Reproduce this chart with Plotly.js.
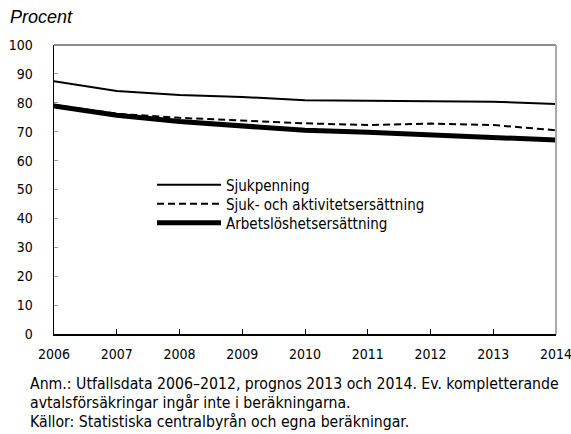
<!DOCTYPE html>
<html>
<head>
<meta charset="utf-8">
<script src="https://cdn.plot.ly/plotly-3.0.1.min.js"></script>
<style>
html,body{margin:0;padding:0;background:#fff;}
#chart{width:571px;height:434px;}
</style>
</head>
<body>
<div id="chart"></div>
<script>
const years = [2006, 2007, 2008, 2009, 2010, 2011, 2012, 2013, 2014];
const sjukpenning = [87.5, 84.1, 82.7, 82.0, 80.9, 80.8, 80.7, 80.4, 79.6];
const sjukAktivitet = [79.3, 76.2, 74.8, 73.8, 72.9, 72.3, 72.8, 72.3, 70.5];
const arbetsloshet = [78.9, 75.7, 73.5, 71.8, 70.5, 69.8, 69.0, 68.3, 67.1];
const seriesNames = ["Sjukpenning", "Sjuk- och aktivitetsersättning", "Arbetslöshetsersättning"];
const yTicks = [0, 10, 20, 30, 40, 50, 60, 70, 80, 90, 100];
const noteLines = [
  "Anm.: Utfallsdata 2006–2012, prognos 2013 och 2014. Ev. kompletterande",
  "avtalsförsäkringar ingår inte i beräkningarna.",
  "Källor: Statistiska centralbyrån och egna beräkningar."
];

const FONT = "'DejaVu Sans Condensed', 'DejaVu Sans', sans-serif";

const traces = [
  {x: years, y: sjukpenning, name: seriesNames[0], mode: "lines", line: {color: "#000", width: 2}, legend: "legend"},
  {x: years, y: sjukAktivitet, name: seriesNames[1], mode: "lines", line: {color: "#000", width: 2, dash: "7px,4px"}, legend: "legend2"},
  {x: years, y: arbetsloshet, name: seriesNames[2], mode: "lines", line: {color: "#000", width: 5}, legend: "legend3"}
];

const annotations = [
  {text: "Procent", xref: "paper", yref: "paper", x: (8-54)/502, y: (334-17)/289, showarrow: false,
   xanchor: "left", yanchor: "middle", font: {family: "'Liberation Sans', Arial, sans-serif", size: 18, color: "#000", style: "italic"}}
];
const noteY = [383, 402, 421];
noteLines.forEach((t, i) => {
  annotations.push({text: t, xref: "paper", yref: "paper", x: (28-54)/502, y: (334 - noteY[i]) / 289,
    showarrow: false, xanchor: "left", yanchor: "middle", font: {family: FONT, size: 15.7, color: "#000"}});
});

function leg(yPix){
  return {x: (152-54)/502, y: (334-yPix)/289, xanchor: "left", yanchor: "middle", bgcolor: "rgba(0,0,0,0)",
          font: {family: FONT, size: 15, color: "#000"}, itemwidth: 64};
}

const layout = {
  width: 571, height: 434,
  margin: {l: 54, r: 15, t: 45, b: 100},
  paper_bgcolor: "#fff", plot_bgcolor: "#fff",
  font: {family: FONT, size: 15, color: "#000"},
  showlegend: true,
  legend: leg(185), legend2: leg(204), legend3: leg(223),
  xaxis: {range: [2006, 2014], tickvals: years, ticktext: years.map(String), showgrid: false, zeroline: false,
          showline: true, linecolor: "#000", linewidth: 1.5, ticks: "inside", ticklen: 5, tickcolor: "#000", tickwidth: 1,
          ticklabelstandoff: 7, ticklabeloverflow: "allow",
          tickfont: {family: FONT, size: 14, color: "#000"}, fixedrange: true},
  yaxis: {range: [0, 100], tickvals: yTicks, showgrid: false, zeroline: false,
          showline: true, linecolor: "#000", linewidth: 1.5, ticks: "inside", ticklen: 4, tickcolor: "#999", tickwidth: 1,
          ticklabelstandoff: 17,
          tickfont: {family: FONT, size: 14, color: "#000"}, fixedrange: true},
  shapes: [
    {type: "line", xref: "paper", yref: "paper", x0: 0, x1: 1, y0: 1, y1: 1, line: {color: "#666", width: 1.5}},
    {type: "line", xref: "paper", yref: "paper", x0: 1, x1: 1, y0: 0, y1: 1, line: {color: "#aaa", width: 2}}
  ],
  annotations: annotations
};

Plotly.newPlot("chart", traces, layout, {displayModeBar: false, staticPlot: true});
</script>
</body>
</html>
